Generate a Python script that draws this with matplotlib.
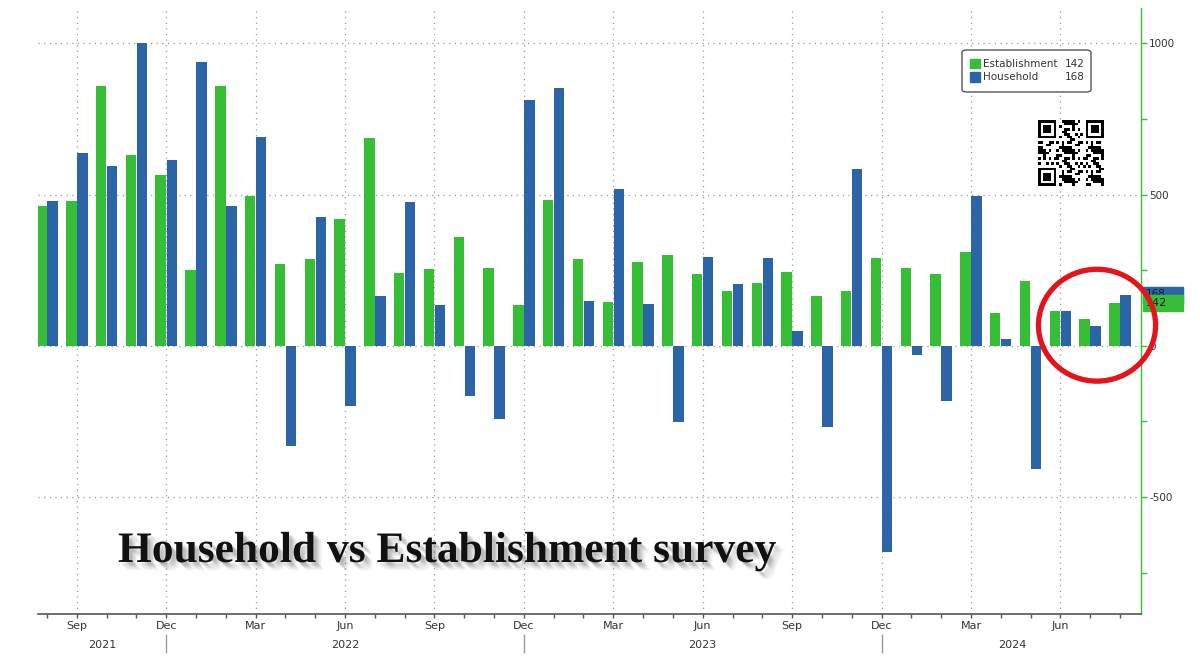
import numpy as np
import pandas as pd
import matplotlib
matplotlib.use('Agg')
import matplotlib.pyplot as plt
import matplotlib.patheffects as pe
import matplotlib.transforms as mtransforms
from matplotlib.patches import Ellipse, Rectangle, FancyBboxPatch

plt.rcParams['axes.unicode_minus'] = False

# monthly change, thousands (Aug 2021 - Aug 2024)
months = pd.period_range('2021-08', '2024-08', freq='M')
establishment = [463, 478, 860, 631, 564, 250, 860, 494, 270, 286, 419, 688,
                 241, 253, 360, 256, 134, 482, 286, 146, 277, 300, 237, 182,
                 208, 245, 164, 182, 289, 256, 236, 309, 107, 214, 116, 87, 142]
household = [478, 636, 595, 1002, 615, 940, 461, 690, -332, 425, -198, 164,
             476, 135, -165, -242, 812, 851, 148, 520, 137, -253, 294, 203,
             289, 49, -270, 585, -682, -32, -183, 496, 23, -409, 116, 66, 168]

quarter_names = {3: 'Mar', 6: 'Jun', 9: 'Sep', 12: 'Dec'}
year_labels = ['2021', '2022', '2023', '2024']
year_label_pos = [1.85, 10, 22, 32.4]

GREEN = '#36bf36'
BLUE = '#2b65a7'
GRID = '#9a9a9a'
TXT = '#333333'

W, H = 1200, 661


def fx(px):
    return px / W


def fy(py):
    return 1 - py / H


fig = plt.figure(figsize=(12, 6.61), dpi=100)
fig.patch.set_facecolor('white')
ax = fig.add_axes([fx(38), fy(614.3), (1140.7 - 38) / W, (614.3 - 8) / H])

x = np.arange(len(months))
ax.bar(x - 0.185, establishment, width=0.35, color=GREEN, zorder=2)
ax.bar(x + 0.185, household, width=0.35, color=BLUE, zorder=2)

ax.set_xlim(-0.302, 36.695)
ax.set_ylim(-888, 1117)

# dotted grid
for v in [-500, 0, 500, 1000]:
    ax.axhline(v, color=GRID, lw=0.9, ls=(0, (1, 3.5)), zorder=1)
quarter_idx = [i for i, m in enumerate(months) if m.month in quarter_names]
for i in quarter_idx:
    ax.axvline(i, color=GRID, lw=0.9, ls=(0, (1, 3.5)), zorder=1)

for s in ['left', 'top']:
    ax.spines[s].set_visible(False)
ax.spines['bottom'].set_color('#555555')
ax.spines['bottom'].set_linewidth(1.2)
ax.spines['right'].set_color(GREEN)
ax.spines['right'].set_linewidth(1)

# y axis on the right
ax.yaxis.tick_right()
ax.set_yticks([-500, 0, 500, 1000])
ax.set_yticks([-750, -250, 250, 750], minor=True)
ax.tick_params(axis='y', which='both', colors=GREEN, labelcolor=TXT,
               labelsize=7.5, length=4, width=1, direction='out', pad=2)

# x axis: month ticks, quarter labels
ax.set_xticks(quarter_idx)
ax.set_xticklabels([quarter_names[months[i].month] for i in quarter_idx])
ax.set_xticks(x, minor=True)
ax.tick_params(axis='x', which='both', length=3, width=1, color='#555555',
               labelcolor=TXT, labelsize=8, pad=2)

trans = mtransforms.blended_transform_factory(ax.transData, ax.transAxes)
for pos, lab in zip(year_label_pos, year_labels):
    ax.text(pos, -0.05, lab, transform=trans, ha='center', va='center',
            fontsize=8, color=TXT)
for i, m in enumerate(months):
    if m.month == 12:
        ax.plot([i, i], [-0.034, -0.062], transform=trans, color='#999999',
                lw=1, clip_on=False)

# last value boxes on the right axis
trans_r = mtransforms.blended_transform_factory(ax.transAxes, ax.transData)
ax.add_patch(Rectangle((1.0021, household[-1] - 28), 0.0363, 53, transform=trans_r,
                       color=BLUE, clip_on=False, zorder=5))
ax.text(1.005, household[-1] + 2, str(household[-1]), transform=trans_r, va='center',
        fontsize=7.5, color='#1a1a1a', zorder=6, clip_on=False)
ax.add_patch(Rectangle((1.0021, establishment[-1] - 27), 0.0363, 53, transform=trans_r,
                       color=GREEN, clip_on=False, zorder=7))
ax.text(1.005, establishment[-1] - 1, str(establishment[-1]), transform=trans_r,
        va='center', fontsize=8, color='#1a1a1a', zorder=8, clip_on=False)

# legend
fig.patches.append(FancyBboxPatch((fx(962), fy(92)), fx(1091) - fx(962), fy(50) - fy(92),
                                  boxstyle='round,pad=0,rounding_size=0.004',
                                  transform=fig.transFigure, fc='white', ec='#555555', lw=1))
fig.patches.append(Rectangle((fx(970), fy(68.3)), 10 / W, 9.5 / H, transform=fig.transFigure,
                             color=GREEN))
fig.patches.append(Rectangle((fx(970), fy(82)), 10 / W, 9.5 / H, transform=fig.transFigure,
                             color=BLUE))
fig.text(fx(983), fy(64), 'Establishment', va='center', fontsize=7.5, color=TXT)
fig.text(fx(1085), fy(64), str(establishment[-1]), va='center', ha='right', fontsize=7.5, color=TXT)
fig.text(fx(983), fy(77.5), 'Household', va='center', fontsize=7.5, color=TXT)
fig.text(fx(1085), fy(77.5), str(household[-1]), va='center', ha='right', fontsize=7.5, color=TXT)

# qr-like badge (decorative pattern)
n = 25
ii, jj = np.indices((n, n))
qr = ((((ii * 31 + jj * 17) ** 2 + ii * jj * 7) % 11) < 5).astype(int)
for r0, c0 in [(0, 0), (0, n - 7), (n - 7, 0)]:
    qr[max(r0 - 1, 0):r0 + 8, max(c0 - 1, 0):c0 + 8] = 0
    qr[r0:r0 + 7, c0:c0 + 7] = 1
    qr[r0 + 1:r0 + 6, c0 + 1:c0 + 6] = 0
    qr[r0 + 2:r0 + 5, c0 + 2:c0 + 5] = 1
qax = fig.add_axes([fx(1037), fy(186), 67 / W, 66 / H])
qax.imshow(qr, cmap='gray_r', interpolation='nearest')
qax.axis('off')

# red circle highlight
ax.add_patch(Ellipse((35.23, 68), 3.93, 370, fill=False, ec='#e3141b', lw=3.8,
                     clip_on=False, zorder=10))

# title with soft shadow
shadows = [pe.SimplePatchShadow(offset=(o, -o), shadow_rgbFace='#666666', alpha=a)
           for o, a in [(6, 0.06), (5, 0.09), (4, 0.12), (3, 0.15), (2, 0.15)]]
fig.text(fx(118), fy(562), 'Household vs Establishment survey',
         fontfamily='Liberation Serif', fontweight='bold', fontsize=31.3, color='#111111',
         va='baseline', path_effects=shadows + [pe.Normal()])

fig.savefig('out.png', dpi=100)
